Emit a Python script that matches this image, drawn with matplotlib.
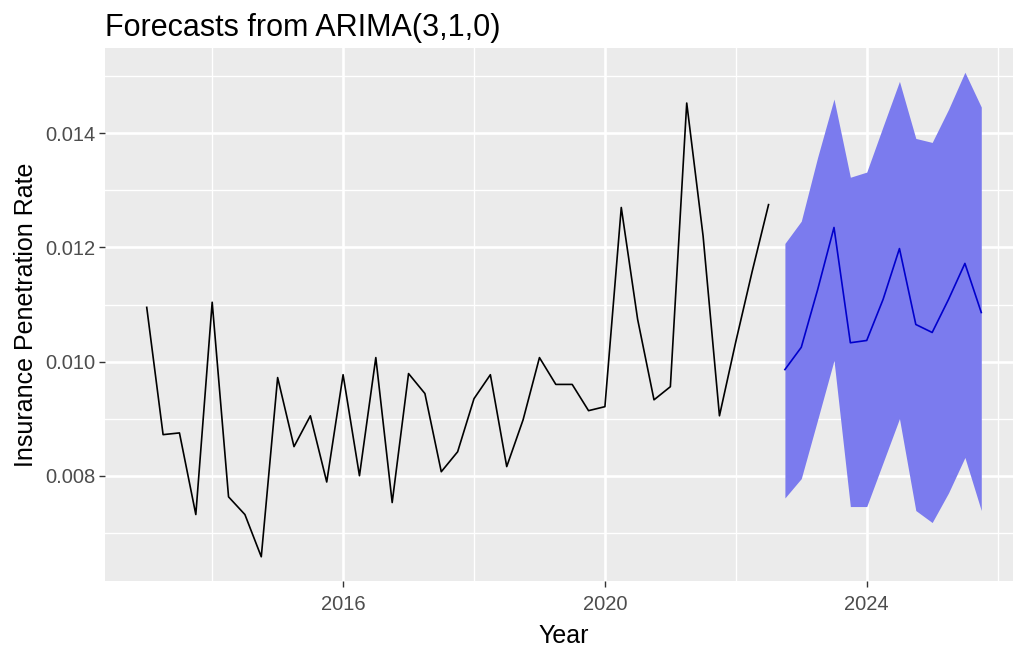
import numpy as np
import matplotlib
matplotlib.use("Agg")
import matplotlib.pyplot as plt
from matplotlib.ticker import FixedLocator

plt.rcParams['font.family'] = ['Liberation Sans', 'DejaVu Sans']

# Observed quarterly series (2013 Q1 .. 2022 Q3)
obs_start = 2013.0
observed = [0.01095, 0.00872, 0.00875, 0.00732, 0.01104, 0.00763, 0.00732, 0.00658,
            0.00972, 0.00851, 0.00905, 0.00789, 0.00977, 0.00800, 0.01007, 0.00753,
            0.00979, 0.00944, 0.00807, 0.00842, 0.00935, 0.00977, 0.00816, 0.00898,
            0.01007, 0.00960, 0.00960, 0.00914, 0.00921, 0.01270, 0.01074, 0.00933,
            0.00956, 0.01453, 0.01220, 0.00905, 0.01035, 0.01158, 0.01275]

# Forecast (2022 Q4 .. 2025 Q4)
fc_start = 2022.75
fc_mean = [0.00986, 0.01025, 0.01126, 0.01235, 0.01033, 0.01037, 0.01109, 0.01198,
           0.01065, 0.01051, 0.01109, 0.01172, 0.01086]
fc_upper = [0.01207, 0.01246, 0.01358, 0.01460, 0.01323, 0.01332, 0.01412, 0.01491,
            0.01391, 0.01384, 0.01442, 0.01507, 0.01446]
fc_lower = [0.00761, 0.00795, 0.00898, 0.01002, 0.00746, 0.00746, 0.00823, 0.00900,
            0.00739, 0.00718, 0.00770, 0.00832, 0.00739]

x_ticks = [2016, 2020, 2024]
y_ticks = [0.008, 0.010, 0.012, 0.014]

t_obs = obs_start + 0.25 * np.arange(len(observed))
t_fc = fc_start + 0.25 * np.arange(len(fc_mean))

W, H = 1013, 647
fig = plt.figure(figsize=(W/100, H/100), dpi=100)
# panel extends slightly beyond the right edge of the image (as in the reference)
ax = fig.add_axes([105/W, 1-581/H, (1023-105)/W, (581-48)/H])
ax.set_facecolor('#EBEBEB')
for s in ax.spines.values():
    s.set_visible(False)

# limits with ggplot-like 5% expansion
allx = np.concatenate([t_obs, t_fc])
ally = np.concatenate([observed, fc_upper, fc_lower])
xr = allx.max() - allx.min()
yr = ally.max() - ally.min()
ax.set_xlim(allx.min() - 0.05*xr, allx.max() + 0.05*xr)
ax.set_ylim(ally.min() - 0.05*yr, ally.max() + 0.05*yr)

ax.xaxis.set_major_locator(FixedLocator(x_ticks))
ax.xaxis.set_minor_locator(FixedLocator([2014, 2018, 2022, 2026]))
ax.yaxis.set_major_locator(FixedLocator(y_ticks))
ax.yaxis.set_minor_locator(FixedLocator([0.007, 0.009, 0.011, 0.013, 0.015]))
ax.grid(which='major', color='white', linewidth=1.9)
ax.grid(which='minor', color='white', linewidth=0.95)
ax.set_axisbelow(True)
ax.set_xticklabels([str(v) for v in x_ticks])
ax.set_yticklabels([f"{v:.3f}" for v in y_ticks])
ax.tick_params(which='major', length=4, width=1.0, color='#333333', labelcolor='#4D4D4D',
               labelsize=14.5, pad=3)
ax.tick_params(axis='x', which='major', pad=6)
ax.tick_params(which='minor', length=0)

ax.fill_between(t_fc, fc_lower, fc_upper, color='#7B7BEE', linewidth=0, zorder=2)
ax.plot(t_obs, observed, color='black', linewidth=1.2, zorder=3)
ax.plot(t_fc, fc_mean, color='#0000CC', linewidth=1.2, zorder=3)

ax.set_xlabel('Year', fontsize=18, color='black', labelpad=7)
ax.set_ylabel('Insurance Penetration Rate', fontsize=18, color='black', labelpad=5)
ax.set_title('Forecasts from ARIMA(3,1,0)', fontsize=22, loc='left', pad=9, color='black')

fig.savefig('out.png', dpi=100)
